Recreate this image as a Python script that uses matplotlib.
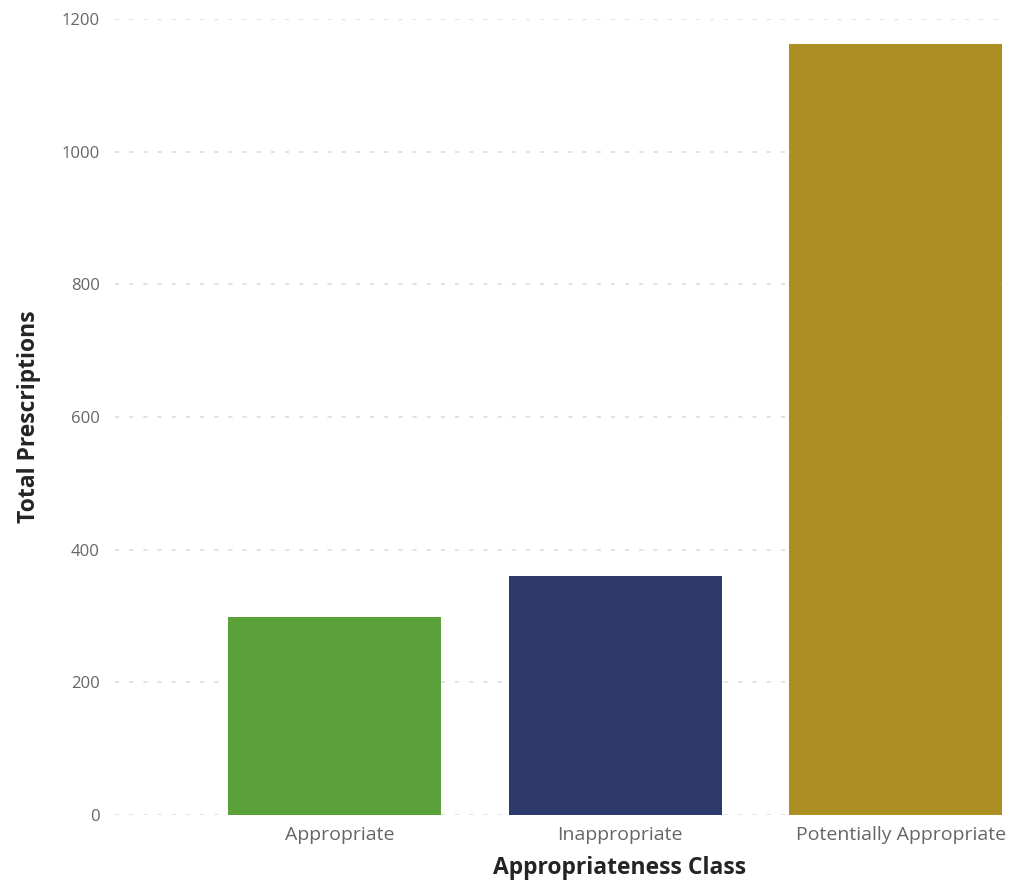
import matplotlib
matplotlib.use("Agg")
import matplotlib.pyplot as plt
import matplotlib.transforms as mtransforms

categories = ["Appropriate", "Inappropriate", "Potentially Appropriate"]
values = [298, 360, 1162]
colors = ["#5BA13A", "#2D386B", "#AD8E22"]
yticks = [0, 200, 400, 600, 800, 1000, 1200]

W, H = 1012, 882
fig = plt.figure(figsize=(W / 100, H / 100), dpi=100)
ax = fig.add_axes([115 / W, 1 - 815 / H, (1008 - 115) / W, (815 - 19) / H])

x = list(range(len(categories)))
ax.bar(x, values, width=0.76, color=colors, zorder=3)
ax.set_xlim(-0.783, 2.40)
ax.set_ylim(0, 1200)
ax.set_yticks(yticks)
ax.set_yticklabels([str(t) for t in yticks])
ax.set_xticks(x)
ax.set_xticklabels(categories)

for s in ax.spines.values():
    s.set_visible(False)
ax.tick_params(axis="both", length=0, colors="#666666")
ax.tick_params(axis="y", pad=11, labelsize=12)
ax.tick_params(axis="x", pad=8, labelsize=14)
for lbl in ax.get_xticklabels() + ax.get_yticklabels():
    lbl.set_fontfamily("Open Sans")
offset = mtransforms.ScaledTranslation(5 / 100, 0, fig.dpi_scale_trans)
for lbl in ax.get_xticklabels():
    lbl.set_transform(lbl.get_transform() + offset)

ax.yaxis.grid(True, color="#DCDCE6", linewidth=1.2, linestyle=(0, (2.5, 6)), zorder=0)
ax.xaxis.grid(False)

ax.set_xlabel("Appropriateness Class", fontsize=16.5, fontweight="bold",
              family="Open Sans", color="#252423", labelpad=10)
ax.set_ylabel("Total Prescriptions", fontsize=16.5, fontweight="bold",
              family="Open Sans", color="#252423", labelpad=15)
ax.xaxis.set_label_coords((620 - 115) / (1008 - 115), -(868 - 815) / (815 - 19))
ax.xaxis.label.set_va("center")

fig.savefig("out.png", dpi=100, facecolor="white")
